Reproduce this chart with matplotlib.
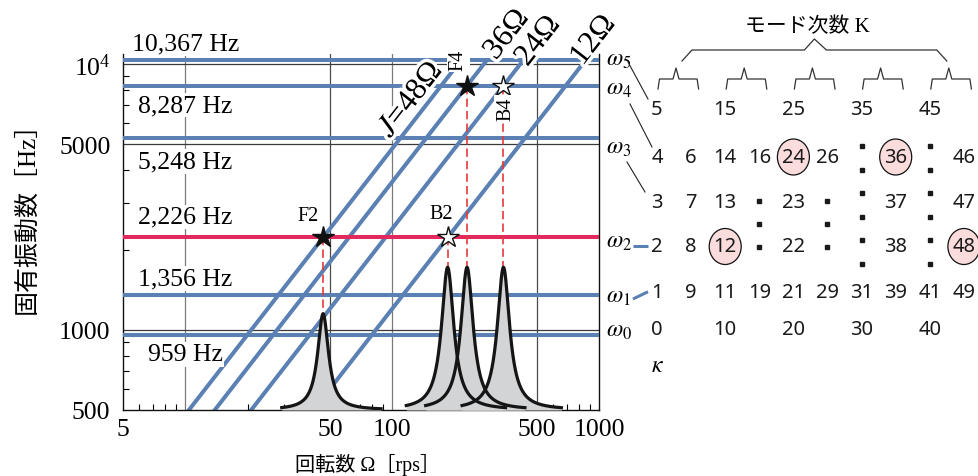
import numpy as np
import matplotlib
matplotlib.use("Agg")
import matplotlib.pyplot as plt
import matplotlib.transforms as mtransforms
import matplotlib.patheffects as pe
from matplotlib.patches import Ellipse
from matplotlib.ticker import FixedLocator, FixedFormatter, NullFormatter

plt.rcParams["font.family"] = ["Liberation Serif", "Noto Sans CJK JP"]
plt.rcParams["mathtext.fontset"] = "stix"

# natural frequencies of the modes [Hz]
mode_freq = [959, 1356, 2226, 5248, 8287, 10367]
mode_name = [r"$\omega_0$", r"$\omega_1$", r"$\omega_2$",
             r"$\omega_3$", r"$\omega_4$", r"$\omega_5$"]
excited_mode = 2

# excitation orders J : frequency = J * rotation speed
orders = [48, 36, 24, 12]
order_label = [r"$J$=48Ω", "36Ω", "24Ω", "12Ω"]

# resonance points (order line x mode line)
res_name = ["F2", "B2", "F4", "B4"]
res_order = [48, 12, 36, 24]
res_mode = [2, 2, 4, 4]
res_filled = [True, False, True, False]
res_peak = [1150, 1720, 1720, 1720]
res_width = [0.032, 0.036, 0.036, 0.036]

# mode order table K (first column is kappa)
k_rows = [
    [5, None, 15, None, 25, None, 35, None, 45, None],
    [4, 6, 14, 16, 24, 26, None, 36, None, 46],
    [3, 7, 13, None, 23, None, None, 37, None, 47],
    [2, 8, 12, None, 22, None, None, 38, None, 48],
    [1, 9, 11, 19, 21, 29, 31, 39, 41, 49],
    [0, None, 10, None, 20, None, 30, None, 40, None],
]
k_circled = [12, 24, 36, 48]

x_ticks = [5, 50, 100, 500, 1000]
x_ticklabels = ["5", "50", "100", "500", "1000"]
y_ticks = [500, 1000, 5000, 10000]
y_ticklabels = ["500", "1000", "5000", r"$\mathregular{10^4}$"]

BLUE = "#5b80b3"
RED = "#e2285c"
DASH_RED = "#e53a3a"

W, H = 979, 477
PT = 0.72  # points per pixel at 100 dpi

fig = plt.figure(figsize=(W / 100, H / 100), dpi=100)
ax = fig.add_axes([123 / W, 1 - 411 / H, 476 / W, 356 / H])
ax.set_xscale("log")
ax.set_yscale("log")
ax.set_xlim(5, 1000)
ax.set_ylim(500, 10900)

# grid
for g in [10, 100]:
    ax.axvline(g, color="#7a7a7a", lw=0.9, zorder=1)
for g in [50, 500]:
    ax.axvline(g, color="#4a4a4a", lw=0.9, zorder=1)
for g in [1000, 5000, 10000]:
    ax.axhline(g, color="#3a3a3a", lw=0.9, zorder=1)

# order lines, ending at the top mode line
f_top = mode_freq[-1]
for J in orders:
    om = np.array([400 / J, f_top / J])
    ax.plot(om, J * om, color=BLUE, lw=2.9, zorder=2.5, solid_capstyle="butt")

# mode lines
for i, f in enumerate(mode_freq):
    ax.axhline(f, color=RED if i == excited_mode else BLUE, lw=2.9, zorder=3)

# resonance peaks
curves = []
for name, J, m, top, w in zip(res_name, res_order, res_mode, res_peak, res_width):
    om0 = mode_freq[m] / J
    u0 = np.log10(om0)
    u = np.linspace(u0 - 0.2, u0 + 0.28, 500)
    h = np.log10(top / 500) / (1 + ((u - u0) / w) ** 2)
    curves.append((10 ** u, 500 * 10 ** h))
for om, y in curves:
    ax.fill_between(om, 500, y, color="#d3d4d6", lw=0, zorder=4)
for om, y in curves:
    ax.plot(om, y, color="#151515", lw=2.3, zorder=5)

# red dashed guides, stars and names
name_offset = [(-15, 22), (-6, 23.5), (-9, 26), (2.5, -23)]
name_rot = [0, 0, 90, 90]
for k, (name, J, m, top, filled) in enumerate(zip(res_name, res_order, res_mode,
                                                   res_peak, res_filled)):
    f = mode_freq[m]
    om0 = f / J
    ax.plot([om0, om0], [f, top], color=DASH_RED, lw=1.2,
            ls=(0, (5, 2.5)), zorder=4.6)
    ax.plot(om0, f, marker="*", ms=16, mfc="#111111" if filled else "white",
            mec="#111111", mew=1.0, zorder=8, ls="none")
    dx, dy = name_offset[k]
    ax.annotate(name, (om0, f), xytext=(dx * PT, dy * PT), textcoords="offset points",
                ha="center", va="center", fontsize=14.5, rotation=name_rot[k],
                zorder=9, annotation_clip=False,
                bbox=dict(boxstyle="square,pad=0.1", fc="white", ec="none")
                if name_rot[k] else None)

# frequency labels
freq_label_dy = [-19.5, 16, 20.6, -23, -19.5, 16.4]
for f, dy in zip(mode_freq, freq_label_dy):
    ax.annotate(f"{f:,} Hz", (10, f), xytext=(0, dy * PT), textcoords="offset points",
                ha="center", va="center", fontsize=18.5, zorder=6,
                bbox=dict(boxstyle="square,pad=0.05", fc="white", ec="none"))

# mode names on the right
trans_r = mtransforms.blended_transform_factory(ax.transAxes, ax.transData)
mode_label_dy = [4, -2, -4.4, -9, -2.5, 0]
for name, f, dy in zip(mode_name, mode_freq, mode_label_dy):
    ax.annotate(name, (1, f), xycoords=trans_r, xytext=(7 * PT, dy * PT),
                textcoords="offset points", ha="left", va="center", fontsize=17,
                annotation_clip=False)

# order labels along the lines
p1 = ax.transData.transform((10, 480))
p2 = ax.transData.transform((100, 4800))
ang = np.degrees(np.arctan2(p2[1] - p1[1], p2[0] - p1[0]))
nx, ny = -np.sin(np.radians(ang)), np.cos(np.radians(ang))
label_freq = [5035, 10700, 10115, 9860]
label_perp = [15.4, 0, 0, 6]
halo = [pe.withStroke(linewidth=5, foreground="white")]
for J, lab, lf, d in zip(orders, order_label, label_freq, label_perp):
    ax.annotate(lab, (lf / J, lf), xytext=(nx * d * PT, ny * d * PT),
                textcoords="offset points", rotation=ang, rotation_mode="anchor",
                ha="left", va="center", fontsize=22.5, zorder=7,
                annotation_clip=False, path_effects=halo)

# axes styling
for s in ["left", "bottom", "right"]:
    ax.spines[s].set_linewidth(1.0)
    ax.spines[s].set_color("#111111")
ax.spines["top"].set_visible(False)
ax.xaxis.set_major_locator(FixedLocator(x_ticks))
ax.xaxis.set_major_formatter(FixedFormatter(x_ticklabels))
ax.xaxis.set_minor_locator(FixedLocator([6, 7, 8, 9, 20, 30, 40, 60, 70, 80, 90,
                                         200, 300, 400, 600, 700, 800, 900]))
ax.xaxis.set_minor_formatter(NullFormatter())
ax.yaxis.set_major_locator(FixedLocator(y_ticks))
ax.yaxis.set_major_formatter(FixedFormatter(y_ticklabels))
ax.yaxis.set_minor_locator(FixedLocator([600, 700, 800, 900, 2000, 3000, 4000,
                                         6000, 7000, 8000, 9000]))
ax.yaxis.set_minor_formatter(NullFormatter())
ax.tick_params(which="both", direction="in", top=False, right=False)
ax.tick_params(which="major", length=0, labelsize=18.5)
ax.tick_params(axis="x", which="major", pad=6)
ax.tick_params(axis="y", which="major", pad=9)
ax.tick_params(which="minor", length=4, width=0.8)

fig.text(27 / W, 1 - 212 / H, "固有振動数［Hz］", rotation=90, ha="center",
         va="center", fontsize=18)
fig.text(368 / W, 1 - 465 / H, "回転数 Ω［rps］", ha="center", va="center",
         fontsize=14.5)

# overlay in pixel coordinates for the mode table
ov = fig.add_axes([0, 0, 1, 1])
ov.set_xlim(0, W)
ov.set_ylim(H, 0)
ov.axis("off")

col_x = 657 + 34.1 * np.arange(10)
row_y = [110, 158, 203, 247.5, 293, 330]
for r, row in enumerate(k_rows):
    for c, v in enumerate(row):
        if v is None:
            continue
        if v in k_circled:
            ov.add_patch(Ellipse((col_x[c], row_y[r]), 32, 36, fc="#fbdcdc",
                                 ec="#111111", lw=0.9, zorder=2))
        ov.text(col_x[c], row_y[r], str(v), ha="center", va="center",
                fontsize=14.5, family=["Noto Sans"], color="#1a1a1a", zorder=3)
ov.text(col_x[0], 367, r"$\kappa$", ha="center", va="center", fontsize=17)

# vertical ellipsis dots
for c in [3, 5]:
    ov.plot([col_x[c]] * 3, [202, 225, 248], "s", ms=2.4, color="#1a1a1a")
for c in [6, 8]:
    ov.plot([col_x[c]] * 6, np.linspace(147, 265, 6), "s", ms=2.4, color="#1a1a1a")

# brackets
peaks_x = []
for g in range(5):
    L = col_x[2 * g] + 1
    R = col_x[2 * g + 1] + 7.5
    P = col_x[2 * g] + 19
    peaks_x.append(P)
    ov.plot([L, L + 1.5, P - 3, P, P + 3, R - 1.5, R],
            [90, 80, 80, 69, 80, 80, 90], color="#333333", lw=0.9)
bl, br = peaks_x[0] + 6, peaks_x[-1] - 2
bm = (bl + br) / 2
ov.plot([bl, bl + 10, bm - 10, bm, bm + 12, br - 10, br],
        [62, 51, 51, 40, 51, 51, 62], color="#333333", lw=0.9)
ov.text(807, 27, "モード次数 K", ha="center", va="center", fontsize=15)

# connectors from mode names to table rows
ov.plot([628, 648], [63, 100], color="#222222", lw=0.8)
ov.plot([630, 652], [105, 148], color="#222222", lw=0.8)
ov.plot([627, 645], [163, 193], color="#222222", lw=0.8)
ov.plot([633, 648], [246.7, 246.7], color=BLUE, lw=2.2, solid_capstyle="butt")
ov.plot([633, 648], [300, 292.7], color=BLUE, lw=2.2, solid_capstyle="butt")

fig.savefig("out.png", dpi=100)
